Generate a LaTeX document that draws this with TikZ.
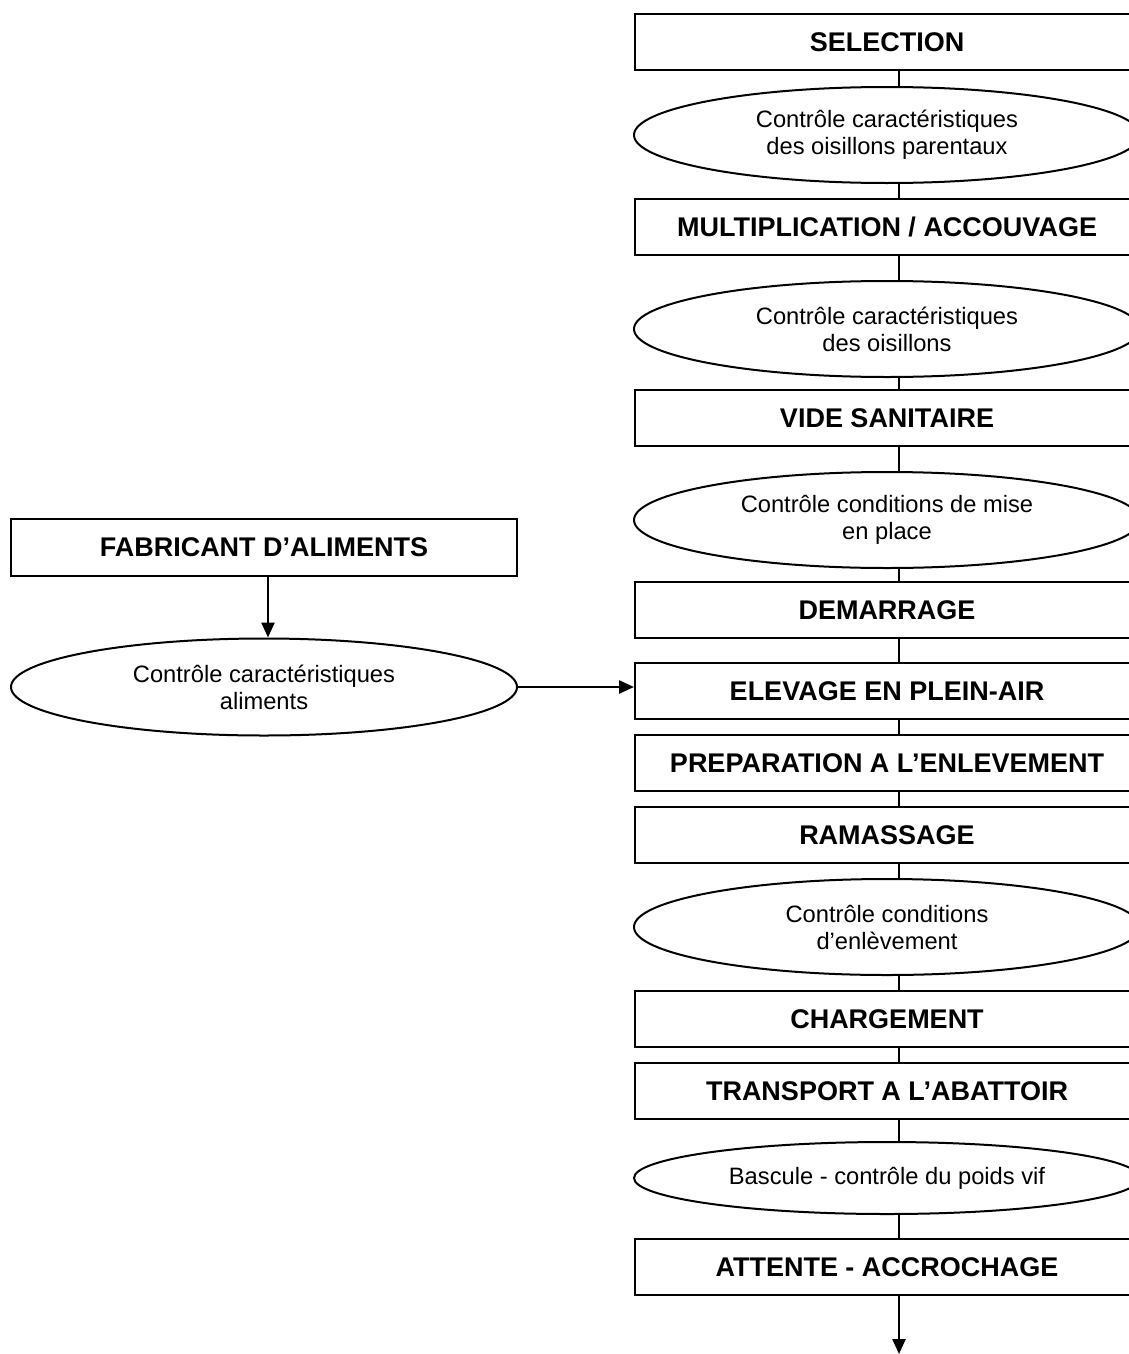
\documentclass[tikz,border=0pt]{standalone}
\usepackage{fontspec}
\setmainfont{Liberation Sans}
\usetikzlibrary{shapes.geometric,arrows.meta}
\tikzset{
  stepbox/.style={draw, line width=2pt, minimum width=504pt, minimum height=56pt, inner sep=0pt,
    font=\fontsize{27}{30}\selectfont\bfseries},
  ctrl/.style={draw, ellipse, line width=2pt, minimum width=506pt, minimum height=96pt, inner sep=0pt,
    align=center, font=\fontsize{23.7}{27}\selectfont},
  link/.style={line width=2.5pt},
  arr/.style={line width=2.5pt, -{Triangle[length=15pt,width=13pt]}},
}
\begin{document}
\begin{tikzpicture}[x=1pt,y=-1pt]
\useasboundingbox (0,0) rectangle (1129,1354);
\clip (0,0) rectangle (1129,1354);
\coordinate (axis) at (899,0);
% right column
\node[stepbox] (sel) at (887,42) {SELECTION};
\node[ctrl] (e1) at (887,135) {Contrôle caractéristiques\\des oisillons parentaux};
\node[stepbox] (mult) at (887,227) {MULTIPLICATION / ACCOUVAGE};
\node[ctrl] (e2) at (887,329) {Contrôle caractéristiques\\des oisillons};
\node[stepbox] (vide) at (887,418) {VIDE SANITAIRE};
\node[ctrl] (e3) at (887,520) {Contrôle conditions de mise\\en place};
\node[stepbox] (dem) at (887,610) {DEMARRAGE};
\node[stepbox] (elev) at (887,691) {ELEVAGE EN PLEIN-AIR};
\node[stepbox] (prep) at (887,763) {PREPARATION A L’ENLEVEMENT};
\node[stepbox] (ram) at (887,835) {RAMASSAGE};
\node[ctrl] (e4) at (887,927) {Contrôle conditions\\d’enlèvement};
\node[stepbox] (charg) at (887,1019) {CHARGEMENT};
\node[stepbox] (trans) at (887,1091) {TRANSPORT A L’ABATTOIR};
\node[ctrl, minimum height=72pt] (e5) at (887,1178) {Bascule - contrôle du poids vif};
\node[stepbox] (att) at (887,1267) {ATTENTE - ACCROCHAGE};
\coordinate (end) at (899,1354);
% left column
\node[stepbox, minimum width=506pt, minimum height=57pt] (fab) at (264,547) {FABRICANT D’ALIMENTS};
\node[ctrl, minimum height=97pt] (ea) at (264,687) {Contrôle caractéristiques\\aliments};
% connectors
\foreach \a/\b in {sel/e1, e1/mult, mult/e2, e2/vide, vide/e3, e3/dem, dem/elev, elev/prep, prep/ram, ram/e4, e4/charg, charg/trans, trans/e5, e5/att}
  \draw[link] (\a.south -| axis) -- (\b.north -| axis);
\draw[arr] (att.south -| axis) -- (end);
\draw[arr] ([xshift=4pt]fab.south) -- ([xshift=4pt]ea.north);
\draw[arr] (ea.east) -- (ea.east -| elev.west);
\end{tikzpicture}
\end{document}
